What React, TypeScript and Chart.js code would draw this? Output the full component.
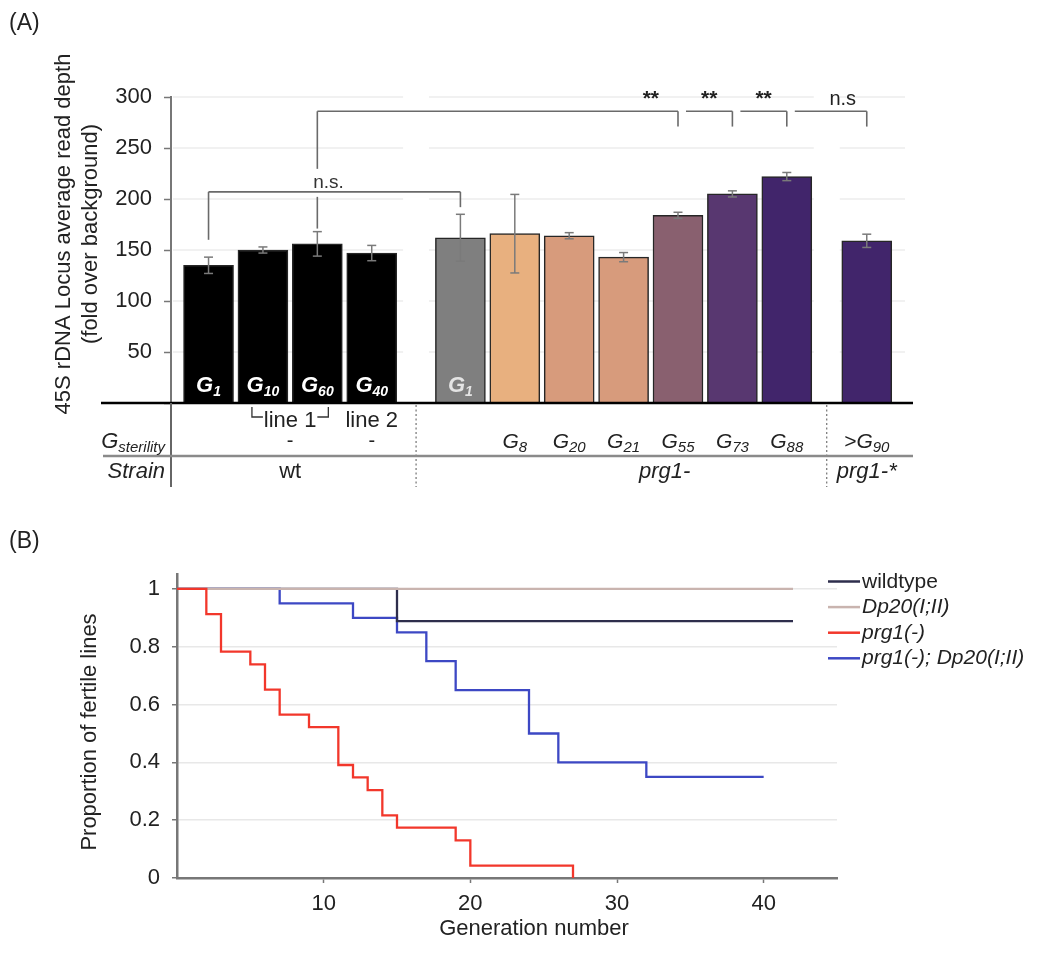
import React, { useEffect, useRef } from 'react';
import { Chart, registerables } from 'chart.js';

Chart.register(...registerables);

const FONT = '"Liberation Sans", Arial, Helvetica, sans-serif';

// ---------------- Panel A data ----------------
const STRAINS = ['wt', 'prg1-', 'prg1-*'];
const GROUP_SIZES = [4, 7, 1];
const READ_DEPTH = [135, 150, 156, 147, 162, 166, 164, 143, 184, 205, 222, 159];
const READ_DEPTH_ERR = [8, 3, 12, 7.5, 23, 38.5, 3, 4.5, 3, 3, 4, 6.5];
const BAR_COLORS = ['#000000', '#000000', '#000000', '#000000', '#7f7f7f', '#e8b07f', '#d79b7c', '#d79b7c', '#89606f', '#583770', '#41256b', '#41256b'];
const INSIDE_SUBS = ['1', '10', '60', '40', '1', '', '', '', '', '', '', ''];
const STERILITY_MAIN = ['', '', '', '', '', 'G', 'G', 'G', 'G', 'G', 'G', '>G'];
const STERILITY_SUBS = ['', '', '', '', '', '8', '20', '21', '55', '73', '88', '90'];
const WT_LINE_LABELS = ['line 1', 'line 2'];
const WT_LINE_FIRST = [1, 3];
const WT_LINE_LAST = [2, 3];
const WT_LINE_STERILITY = ['-', '-'];
const Y_A_MAX = 300;
const Y_A_STEP = 25;
const Y_A_LABEL_STEP = 50;

const SIG_FROM = [0, 2, 8, 9, 10];
const SIG_TO = [4, 8, 9, 10, 11];
const SIG_TEXT = ['n.s.', '**', '**', '**', 'n.s'];
const SIG_LEVEL = [207, 286, 286, 286, 286];
const SIG_LEFT_END = [160, 171, null, null, null];
const SIG_RIGHT_END = [192, 271, 271, 271, 271];

// ---------------- Panel B data ----------------
const SERIES_NAMES = ['wildtype', 'Dp20(I;II)', 'prg1(-)', 'prg1(-); Dp20(I;II)'];
const WT_GEN = [0, 15, 42];
const WT_FERTILE = [1, 0.889, 0.889];
const DP20_GEN = [0, 42];
const DP20_FERTILE = [1, 1];
const PRG1_GEN = [0, 2, 3, 5, 6, 7, 9, 11, 12, 13, 14, 15, 19, 20, 27];
const PRG1_FERTILE = [1, 0.913, 0.783, 0.739, 0.652, 0.565, 0.522, 0.391, 0.348, 0.304, 0.217, 0.174, 0.13, 0.043, 0];
const PRG1_DP20_GEN = [0, 7, 12, 15, 17, 19, 24, 26, 32, 40];
const PRG1_DP20_FERTILE = [1, 0.95, 0.9, 0.85, 0.75, 0.65, 0.5, 0.4, 0.35, 0.35];
const X_B_MAX = 45;
const X_B_STEP = 10;
const Y_B_STEP = 0.2;

// ---------------- layout / style ----------------
const GROUP_GAPS = [0.63, 0.47];
const STRAIN_LABEL_SHIFT = [0, 41, 0];
const SIG_LABEL_SHIFT = [0, 0, 0, 0, 12];
const SERIES_COLORS = ['#2e2e4c', '#c9b4af', '#f2372b', '#3d48c4'];
const SERIES_ORDER = [2, 1, 0, 3];

function barPositions(): number[] {
  const pos: number[] = [];
  let p = 0;
  GROUP_SIZES.forEach((n, g) => {
    for (let i = 0; i < n; i++) {
      pos.push(p);
      p += 1;
    }
    p += GROUP_GAPS[g] ?? 0;
  });
  return pos;
}

type TOpts = {
  size: number;
  weight?: string;
  style?: string;
  color?: string;
  align?: CanvasTextAlign;
  baseline?: CanvasTextBaseline;
};

function txt(ctx: CanvasRenderingContext2D, s: string, x: number, y: number, o: TOpts) {
  ctx.save();
  ctx.font = `${o.style || 'normal'} ${o.weight || 'normal'} ${o.size}px ${FONT}`;
  ctx.fillStyle = o.color || '#222';
  ctx.textAlign = o.align || 'center';
  ctx.textBaseline = o.baseline || 'alphabetic';
  ctx.fillText(s, x, y);
  ctx.restore();
}

function subTxt(
  ctx: CanvasRenderingContext2D,
  main: string,
  sub: string,
  x: number,
  y: number,
  mainSize: number,
  subSize: number,
  o: { weight?: string; style?: string; color?: string; align?: 'center' | 'right' | 'left' }
) {
  ctx.save();
  const w = o.weight || 'normal';
  const st = o.style || 'normal';
  ctx.font = `${st} ${w} ${mainSize}px ${FONT}`;
  const w1 = ctx.measureText(main).width;
  ctx.font = `${st} ${w} ${subSize}px ${FONT}`;
  const w2 = ctx.measureText(sub).width;
  const total = w1 + w2;
  let sx = x - total / 2;
  if (o.align === 'right') sx = x - total;
  if (o.align === 'left') sx = x;
  ctx.restore();
  txt(ctx, main, sx, y, { size: mainSize, weight: w, style: st, color: o.color, align: 'left' });
  txt(ctx, sub, sx + w1, y + subSize * 0.25, { size: subSize, weight: w, style: st, color: o.color, align: 'left' });
}

function line(ctx: CanvasRenderingContext2D, pts: number[][], color: string, width: number, dash: number[] = []) {
  ctx.save();
  ctx.strokeStyle = color;
  ctx.lineWidth = width;
  ctx.setLineDash(dash);
  ctx.beginPath();
  pts.forEach((p, i) => (i === 0 ? ctx.moveTo(p[0], p[1]) : ctx.lineTo(p[0], p[1])));
  ctx.stroke();
  ctx.restore();
}

function PanelA() {
  const ref = useRef<HTMLCanvasElement>(null);
  useEffect(() => {
    const pos = barPositions();
    const groupStart: number[] = [];
    let acc = 0;
    GROUP_SIZES.forEach((n) => {
      groupStart.push(acc);
      acc += n;
    });

    const plugin = {
      id: 'panelA',
      beforeDatasetsDraw(chart: any) {
        const { ctx, scales } = chart;
        const x = scales.x;
        const y = scales.y;
        const seps: number[] = [];
        for (let g = 1; g < GROUP_SIZES.length; g++) {
          seps.push((x.getPixelForValue(pos[groupStart[g] - 1]) + x.getPixelForValue(pos[groupStart[g]])) / 2);
        }
        for (let v = Y_A_LABEL_STEP; v <= Y_A_MAX; v += Y_A_LABEL_STEP) {
          const py = y.getPixelForValue(v);
          let start = x.left + 2;
          seps.forEach((s) => {
            line(ctx, [[start, py], [s - 13, py]], '#ececec', 1.5);
            start = s + 13;
          });
          line(ctx, [[start, py], [x.right - 8, py]], '#ececec', 1.5);
        }
      },
      afterDatasetsDraw(chart: any) {
        const { ctx, scales } = chart;
        const x = scales.x;
        const y = scales.y;
        const cx = (i: number) => x.getPixelForValue(pos[i]);
        const base = y.getPixelForValue(0);

        // error bars
        READ_DEPTH.forEach((v, i) => {
          const c = cx(i);
          const t = y.getPixelForValue(v + READ_DEPTH_ERR[i]);
          const b = y.getPixelForValue(v - READ_DEPTH_ERR[i]);
          line(ctx, [[c, t], [c, b]], '#7a7a7a', 1.5);
          line(ctx, [[c - 4.5, t], [c + 4.5, t]], '#7a7a7a', 1.5);
          line(ctx, [[c - 4.5, b], [c + 4.5, b]], '#7a7a7a', 1.5);
        });

        // labels inside bars
        INSIDE_SUBS.forEach((s, i) => {
          if (!s) return;
          const col = BAR_COLORS[i] === '#000000' ? '#ffffff' : '#e4e4e4';
          subTxt(ctx, 'G', s, cx(i), base - 11, 22, 14, { weight: 'bold', style: 'italic', color: col });
        });

        // significance brackets
        const bc = '#6a6a6a';
        SIG_FROM.forEach((f, k) => {
          const t = SIG_TO[k];
          const ly = y.getPixelForValue(SIG_LEVEL[k]);
          const le = SIG_LEFT_END[k];
          const xr = cx(t);
          let xl = cx(f);
          if (le === null) xl = cx(f) + 8;
          line(ctx, [[xl, ly], [xr, ly]], bc, 1.6);
          line(ctx, [[xr, ly], [xr, y.getPixelForValue(SIG_RIGHT_END[k])]], bc, 1.6);
          if (le !== null) {
            const lend = y.getPixelForValue(le);
            let crossed = false;
            SIG_FROM.forEach((f2, k2) => {
              if (k2 === k) return;
              const a = cx(f2), b2 = cx(SIG_TO[k2]);
              const l2 = y.getPixelForValue(SIG_LEVEL[k2]);
              if (xl > a && xl < b2 && l2 > ly && l2 < lend) {
                crossed = true;
                line(ctx, [[xl, ly], [xl, l2 - 23]], bc, 1.6);
                line(ctx, [[xl, l2 + 5], [xl, lend]], bc, 1.6);
              }
            });
            if (!crossed) line(ctx, [[xl, ly], [xl, lend]], bc, 1.6);
          }
          let lx = (xl + xr) / 2 + SIG_LABEL_SHIFT[k];
          if (le !== null && t - f > 4) lx = (cx(t - 1) + cx(t)) / 2;
          const isStar = SIG_TEXT[k].indexOf('*') >= 0;
          if (le !== null && !(t - f > 4)) {
            txt(ctx, SIG_TEXT[k], lx - 6, ly - 4, { size: 19, color: '#333', baseline: 'alphabetic' });
          } else {
            txt(ctx, SIG_TEXT[k], lx, y.getPixelForValue(SIG_LEVEL[k]) - 6, {
              size: isStar ? 21 : 20,
              weight: isStar ? 'bold' : 'normal',
              color: '#222',
            });
          }
        });
      },
      afterDraw(chart: any) {
        const { ctx, scales } = chart;
        const x = scales.x;
        const y = scales.y;
        const cx = (i: number) => x.getPixelForValue(pos[i]);
        const base = y.getPixelForValue(0);
        const tableBottom = base + 84;
        const rowLine = base + 53;

        line(ctx, [[101, base], [x.right, base]], '#000', 2.6);
        line(ctx, [[x.left, base], [x.left, tableBottom]], '#666', 2);
        for (let g = 1; g < GROUP_SIZES.length; g++) {
          const s = (cx(groupStart[g] - 1) + cx(groupStart[g])) / 2;
          line(ctx, [[s, base + 2], [s, tableBottom]], '#555', 1, [2, 2.5]);
        }
        line(ctx, [[103, rowLine], [x.right, rowLine]], '#8a8a8a', 2.6);

        WT_LINE_LABELS.forEach((lab, k) => {
          const a = cx(WT_LINE_FIRST[k]);
          const b = cx(WT_LINE_LAST[k]);
          const m = (a + b) / 2;
          const ty = base + 24;
          txt(ctx, lab, m, ty, { size: 22 });
          if (WT_LINE_FIRST[k] !== WT_LINE_LAST[k]) {
            line(ctx, [[a - 11, base + 4], [a - 11, base + 14], [a, base + 14]], '#333', 1.3);
            line(ctx, [[b, base + 14], [b + 11, base + 14], [b + 11, base + 4]], '#333', 1.3);
          }
          txt(ctx, WT_LINE_STERILITY[k], m, base + 44, { size: 20 });
        });

        subTxt(ctx, 'G', 'sterility', 165, base + 45, 22, 15, { style: 'italic', align: 'right', color: '#222' });
        txt(ctx, 'Strain', 165, base + 75, { size: 22, style: 'italic', align: 'right' });

        STERILITY_SUBS.forEach((s, i) => {
          if (!s) return;
          subTxt(ctx, STERILITY_MAIN[i], s, cx(i), base + 45, 21, 15, { style: 'italic', color: '#222' });
        });

        STRAINS.forEach((s, g) => {
          const a = cx(groupStart[g]);
          const b = cx(groupStart[g] + GROUP_SIZES[g] - 1);
          const m = (a + b) / 2 + STRAIN_LABEL_SHIFT[g];
          txt(ctx, s, m, base + 75, { size: 22, style: g === 0 ? 'normal' : 'italic' });
        });

        ctx.save();
        ctx.translate(64, 234);
        ctx.rotate(-Math.PI / 2);
        txt(ctx, '45S rDNA Locus average read depth', 0, 0, { size: 22, baseline: 'middle' });
        ctx.restore();
        ctx.save();
        ctx.translate(91, 234);
        ctx.rotate(-Math.PI / 2);
        txt(ctx, '(fold over background)', 0, 0, { size: 22, baseline: 'middle' });
        ctx.restore();

        txt(ctx, '(A)', 9, 24, { size: 23, align: 'left', baseline: 'middle' });
      },
    };

    const chart = new Chart(ref.current as HTMLCanvasElement, {
      type: 'bar',
      data: {
        datasets: [
          {
            data: READ_DEPTH.map((v, i) => ({ x: pos[i], y: v })) as any,
            backgroundColor: BAR_COLORS,
            borderColor: '#262626',
            borderWidth: 1.5,
            barThickness: 50,
          },
        ],
      },
      options: {
        responsive: false,
        animation: false,
        layout: { padding: { top: 97, right: 137, bottom: 97, left: 0 } },
        plugins: { legend: { display: false }, tooltip: { enabled: false } },
        scales: {
          x: { type: 'linear', min: -0.69, max: 12.95, display: false, offset: false },
          y: {
            min: 0,
            max: Y_A_MAX,
            afterFit: (s: any) => {
              s.width = 171;
            },
            ticks: {
              stepSize: Y_A_STEP,
              callback: (v: any) => (v % Y_A_LABEL_STEP === 0 && v > 0 ? String(v) : ''),
              font: { size: 22, family: FONT },
              color: '#222',
              padding: 12,
            },
            grid: { drawOnChartArea: false, tickLength: 7, tickColor: '#777', tickWidth: 1.5 },
            border: { color: '#777', width: 2 },
          },
        },
      } as any,
      plugins: [plugin],
    });
    return () => chart.destroy();
  }, []);
  return <canvas ref={ref} width={1050} height={500} style={{ position: 'absolute', left: 0, top: 0 }} />;
}

function PanelB() {
  const ref = useRef<HTMLCanvasElement>(null);
  useEffect(() => {
    const gens = [WT_GEN, DP20_GEN, PRG1_GEN, PRG1_DP20_GEN];
    const fert = [WT_FERTILE, DP20_FERTILE, PRG1_FERTILE, PRG1_DP20_FERTILE];
    const plugin = {
      id: 'panelB',
      afterDraw(chart: any) {
        const { ctx } = chart;
        txt(ctx, '(B)', 9, 42, { size: 23, align: 'left', baseline: 'middle' });
        ctx.save();
        ctx.translate(90, 232);
        ctx.rotate(-Math.PI / 2);
        txt(ctx, 'Proportion of fertile lines', 0, 0, { size: 22, baseline: 'middle' });
        ctx.restore();
        txt(ctx, 'Generation number', 534, 429, { size: 22, baseline: 'middle' });
        SERIES_NAMES.forEach((n, i) => {
          const ly = 81.5 + i * 25.6;
          line(ctx, [[828, ly], [860, ly]], SERIES_COLORS[i], 2.5);
          txt(ctx, n, 862, ly + 6, { size: 21, align: 'left', style: i === 0 ? 'normal' : 'italic' });
        });
      },
    };
    const chart = new Chart(ref.current as HTMLCanvasElement, {
      type: 'line',
      data: {
        datasets: SERIES_NAMES.map((n, i) => ({
          label: n,
          data: gens[i].map((g, j) => ({ x: g, y: fert[i][j] })),
          borderColor: SERIES_COLORS[i],
          borderWidth: 2.3,
          stepped: 'before',
          pointRadius: 0,
          fill: false,
          order: SERIES_ORDER[i],
        })) as any,
      },
      options: {
        responsive: false,
        animation: false,
        layout: { padding: { top: 74.5, right: 213, bottom: 36, left: 0 } },
        plugins: { legend: { display: false }, tooltip: { enabled: false } },
        scales: {
          x: {
            type: 'linear',
            min: 0,
            max: X_B_MAX,
            afterFit: (s: any) => {
              s.height = 40;
            },
            afterBuildTicks: (s: any) => {
              s.ticks = s.ticks.filter((t: any) => t.value > 0 && t.value <= 40 && t.value % X_B_STEP === 0);
            },
            ticks: { stepSize: X_B_STEP, includeBounds: false, font: { size: 22, family: FONT }, color: '#222', padding: 8, maxRotation: 0 },
            grid: { drawOnChartArea: false, tickLength: 5, tickColor: '#777', tickWidth: 1.5 },
            border: { color: '#777', width: 2.5 },
          },
          y: {
            min: 0,
            max: 1.05,
            afterFit: (s: any) => {
              s.width = 177;
            },
            afterBuildTicks: (s: any) => {
              s.ticks = s.ticks.filter((t: any) => t.value <= 1.0001);
            },
            ticks: {
              stepSize: Y_B_STEP,
              includeBounds: false,
              callback: (v: any) => (v === 0 ? '0' : v >= 0.999 ? '1' : Number(v).toFixed(1)),
              font: { size: 22, family: FONT },
              color: '#222',
              padding: 12,
            },
            grid: { color: '#e8e8e8', lineWidth: 1.5, tickColor: '#777', tickLength: 5, tickWidth: 1.5 },
            border: { color: '#777', width: 2.5 },
          },
        },
      } as any,
      plugins: [plugin],
    });
    return () => chart.destroy();
  }, []);
  return <canvas ref={ref} width={1050} height={454} style={{ position: 'absolute', left: 0, top: 500 }} />;
}

export default function App() {
  return (
    <div style={{ position: 'absolute', left: 0, top: 0, width: 1050, height: 954, background: '#fff', overflow: 'hidden' }}>
      <PanelA />
      <PanelB />
    </div>
  );
}
